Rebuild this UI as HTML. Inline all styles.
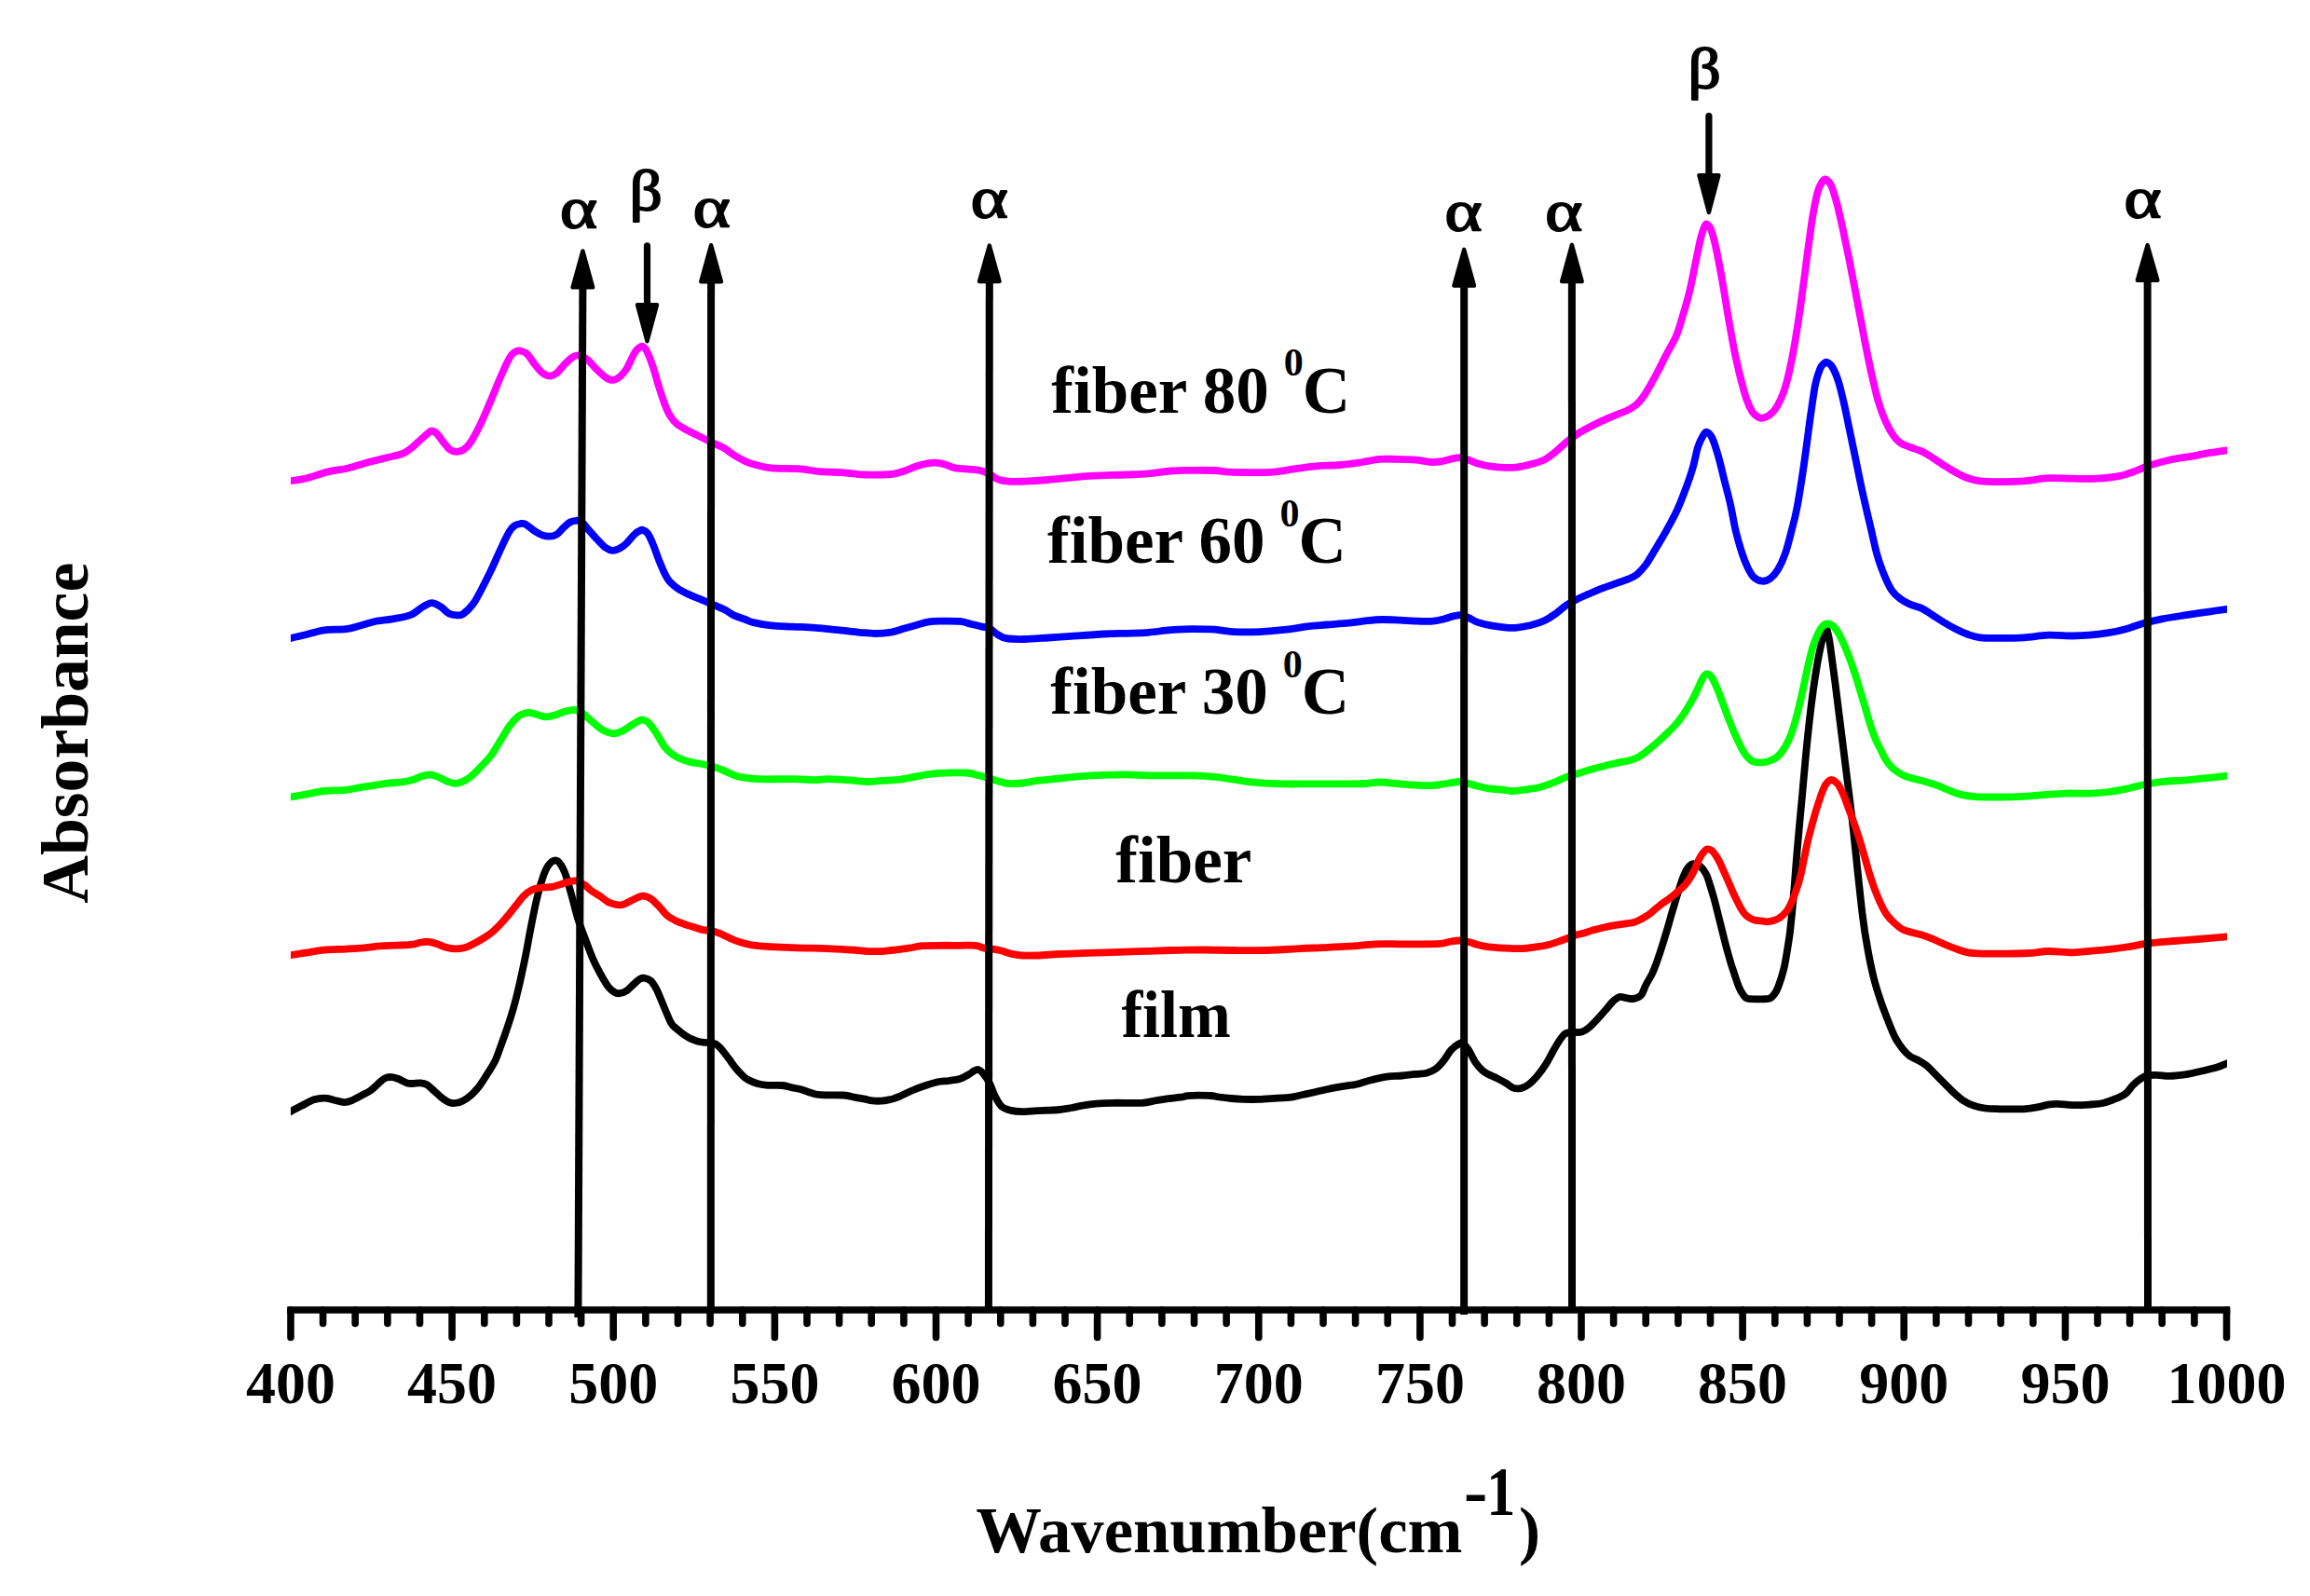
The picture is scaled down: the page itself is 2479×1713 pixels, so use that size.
<!DOCTYPE html>
<html><head><meta charset="utf-8"><title>FTIR spectra</title>
<style>html,body{margin:0;padding:0;background:#fff}svg{display:block}</style></head>
<body>
<svg width="2479" height="1713" viewBox="0 0 2479 1713">
<rect width="2479" height="1713" fill="#fff"/>
<defs><clipPath id="plotclip"><rect x="311.9" y="0" width="2078" height="1400"/></clipPath></defs>
<g clip-path="url(#plotclip)">
<path d="M299.9 1199.0C301.9 1197.9 307.9 1194.9 311.9 1192.9C315.9 1190.8 319.7 1188.9 323.8 1186.8C328.0 1184.7 332.6 1181.7 336.8 1180.3C340.9 1178.9 345.1 1178.5 348.7 1178.6C352.3 1178.6 355.0 1180.0 358.4 1180.7C361.9 1181.5 366.0 1183.1 369.3 1183.1C372.5 1183.2 374.7 1182.3 377.9 1181.0C381.2 1179.7 385.5 1177.1 388.7 1175.3C392.0 1173.6 394.5 1172.6 397.4 1170.6C400.3 1168.5 403.5 1165.2 406.1 1163.0C408.6 1160.8 410.4 1158.8 412.6 1157.6C414.7 1156.4 416.5 1155.8 419.0 1155.8C421.6 1155.9 424.8 1156.9 427.7 1158.0C430.6 1159.1 433.8 1161.5 436.4 1162.3C438.9 1163.2 440.5 1163.0 442.9 1163.0C445.2 1163.0 447.9 1162.2 450.4 1162.3C453.0 1162.5 455.3 1162.5 458.0 1164.1C460.7 1165.6 463.8 1169.1 466.7 1171.6C469.6 1174.2 472.8 1177.3 475.3 1179.2C477.8 1181.1 479.7 1182.3 481.8 1183.1C484.0 1183.9 485.8 1184.3 488.3 1184.0C490.8 1183.7 494.1 1182.8 497.0 1181.4C499.9 1179.9 502.7 1177.9 505.6 1175.3C508.5 1172.7 511.4 1169.6 514.3 1165.8C517.2 1162.0 520.1 1157.4 522.9 1152.8C525.8 1148.2 529.1 1143.4 531.6 1138.1C534.1 1132.8 535.9 1126.7 538.1 1120.8C540.3 1114.8 542.4 1108.9 544.6 1102.4C546.8 1095.9 548.9 1089.6 551.1 1081.8C553.2 1074.1 555.4 1065.2 557.6 1055.8C559.7 1046.5 561.9 1036.4 564.1 1025.5C566.2 1014.7 568.4 1001.7 570.6 990.9C572.7 980.1 574.9 969.3 577.1 960.6C579.2 951.9 581.6 944.4 583.5 939.0C585.5 933.5 586.9 930.7 589.0 928.1C591.1 925.5 593.9 923.4 596.1 923.4C598.3 923.4 600.1 925.4 601.9 928.1C603.8 930.9 605.4 934.3 607.4 940.0C609.3 945.8 611.7 955.0 613.9 962.8C616.0 970.5 617.8 978.6 620.3 986.6C622.9 994.5 626.3 1003.2 629.0 1010.4C631.7 1017.6 634.1 1024.1 636.6 1029.9C639.1 1035.6 641.5 1040.2 644.2 1045.0C646.9 1049.9 650.3 1055.8 652.8 1059.1C655.3 1062.4 657.3 1063.7 659.3 1064.9C661.3 1066.1 662.6 1066.5 664.7 1066.2C666.9 1066.0 669.6 1065.2 672.3 1063.4C675.0 1061.6 678.4 1057.6 681.0 1055.4C683.5 1053.2 685.6 1051.4 687.4 1050.4C689.2 1049.5 690.0 1049.4 691.8 1049.8C693.6 1050.1 696.1 1050.5 698.3 1052.6C700.4 1054.7 702.6 1058.2 704.8 1062.3C706.9 1066.5 708.7 1071.6 711.3 1077.5C713.8 1083.4 717.7 1093.4 720.0 1097.7C722.3 1102.0 723.3 1101.6 725.2 1103.4C727.1 1105.2 729.4 1107.0 731.4 1108.6C733.5 1110.2 735.6 1111.6 737.7 1112.8C739.8 1114.0 741.7 1115.0 743.9 1115.9C746.2 1116.8 748.8 1117.8 751.2 1118.3C753.6 1118.8 755.9 1118.7 758.5 1119.0C761.1 1119.3 764.6 1119.3 766.8 1120.1C769.1 1120.8 770.3 1122.0 772.0 1123.7C773.7 1125.3 775.5 1127.8 777.2 1129.9C779.0 1132.1 780.7 1134.4 782.4 1136.7C784.2 1139.0 785.9 1141.7 787.6 1144.0C789.4 1146.2 790.9 1148.1 792.8 1150.2C794.7 1152.3 797.0 1154.8 799.1 1156.5C801.1 1158.1 802.9 1159.0 805.3 1160.1C807.7 1161.2 810.5 1162.4 813.6 1163.2C816.7 1164.0 819.7 1164.5 824.0 1164.8C828.4 1165.1 835.3 1164.6 839.6 1165.0C844.0 1165.4 846.6 1166.6 850.0 1167.4C853.5 1168.1 857.0 1168.5 860.4 1169.5C863.9 1170.4 867.4 1172.2 870.8 1173.1C874.3 1174.1 875.5 1174.8 881.2 1175.2C887.0 1175.6 899.1 1175.1 905.2 1175.5C911.2 1175.9 913.8 1177.1 917.7 1177.8C921.5 1178.5 924.9 1179.1 928.1 1179.7C931.2 1180.3 933.4 1181.1 936.4 1181.4C939.3 1181.8 942.8 1181.8 945.7 1181.6C948.7 1181.5 951.7 1180.9 954.1 1180.4C956.4 1179.9 958.1 1179.5 960.0 1178.8C961.9 1178.2 962.4 1178.1 965.7 1176.7C969.0 1175.2 975.2 1172.0 980.0 1170.0C984.8 1168.0 989.9 1166.2 994.3 1164.8C998.7 1163.3 1002.2 1162.0 1006.2 1161.2C1010.2 1160.4 1014.1 1160.5 1018.1 1160.0C1022.1 1159.5 1026.4 1159.2 1030.0 1158.1C1033.6 1157.0 1036.9 1154.8 1039.5 1153.3C1042.1 1151.9 1043.7 1150.2 1045.5 1149.3C1047.3 1148.4 1048.7 1147.6 1050.2 1148.1C1051.8 1148.6 1053.0 1149.7 1055.0 1152.1C1057.0 1154.6 1060.0 1158.7 1062.1 1162.9C1064.3 1167.0 1065.9 1173.0 1068.1 1177.1C1070.3 1181.3 1072.5 1185.4 1075.2 1187.9C1078.0 1190.3 1081.2 1191.0 1084.8 1191.9C1088.3 1192.8 1091.9 1193.1 1096.7 1193.1C1101.4 1193.1 1106.6 1192.5 1113.3 1192.1C1120.1 1191.8 1131.0 1191.5 1137.1 1191.0C1143.3 1190.4 1145.7 1189.7 1150.0 1189.0C1154.3 1188.2 1158.7 1187.1 1163.0 1186.4C1167.3 1185.6 1170.8 1185.1 1176.0 1184.7C1181.2 1184.2 1185.9 1183.9 1194.2 1183.8C1202.4 1183.6 1217.5 1184.2 1225.3 1183.8C1233.1 1183.3 1236.1 1181.9 1240.9 1181.2C1245.7 1180.4 1249.6 1179.8 1253.9 1179.2C1258.2 1178.6 1263.4 1178.2 1266.9 1177.7C1270.3 1177.2 1271.4 1176.6 1274.7 1176.2C1277.9 1175.9 1282.3 1175.8 1286.4 1175.7C1290.5 1175.7 1295.7 1175.7 1299.4 1176.0C1303.0 1176.3 1304.8 1177.0 1308.4 1177.5C1312.1 1178.0 1317.1 1178.6 1321.4 1179.0C1325.8 1179.4 1329.4 1179.7 1334.4 1179.9C1339.4 1180.0 1345.2 1180.1 1351.3 1179.9C1357.4 1179.7 1365.4 1178.9 1370.8 1178.6C1376.2 1178.2 1379.4 1178.5 1383.8 1177.9C1388.1 1177.4 1392.4 1176.2 1396.8 1175.3C1401.1 1174.4 1405.4 1173.4 1409.7 1172.5C1414.1 1171.5 1418.4 1170.4 1422.7 1169.5C1427.1 1168.5 1431.2 1167.7 1435.7 1166.9C1440.3 1166.1 1446.8 1165.1 1450.0 1164.7C1453.2 1164.2 1451.2 1164.9 1454.8 1164.0C1458.3 1163.1 1465.9 1160.7 1471.4 1159.3C1477.0 1157.9 1482.5 1156.5 1488.1 1155.7C1493.7 1154.9 1499.6 1155.0 1504.8 1154.5C1509.9 1154.0 1514.7 1153.3 1519.0 1152.9C1523.4 1152.4 1527.4 1152.6 1531.0 1151.7C1534.5 1150.8 1537.5 1149.5 1540.5 1147.4C1543.5 1145.3 1546.0 1142.4 1548.8 1139.0C1551.6 1135.7 1554.4 1130.2 1557.1 1127.1C1559.9 1124.0 1563.3 1121.7 1565.5 1120.5C1567.7 1119.3 1568.5 1118.9 1570.2 1120.0C1572.0 1121.1 1574.0 1123.8 1576.2 1127.1C1578.4 1130.5 1581.0 1136.7 1583.3 1140.2C1585.7 1143.8 1588.1 1146.4 1590.5 1148.6C1592.9 1150.8 1594.8 1151.8 1597.6 1153.3C1600.4 1154.8 1604.0 1156.0 1607.1 1157.6C1610.3 1159.2 1613.9 1161.2 1616.7 1162.9C1619.4 1164.5 1621.2 1166.7 1623.8 1167.6C1626.4 1168.5 1629.4 1168.7 1632.1 1168.1C1634.9 1167.5 1637.5 1166.3 1640.5 1164.0C1643.5 1161.8 1646.8 1158.3 1650.0 1154.5C1653.2 1150.8 1656.7 1145.8 1659.5 1141.4C1662.3 1137.1 1664.3 1132.5 1666.7 1128.3C1669.0 1124.2 1671.6 1119.6 1673.8 1116.4C1676.0 1113.3 1677.4 1110.7 1679.8 1109.3C1682.1 1107.9 1685.1 1108.4 1688.1 1108.1C1691.1 1107.8 1694.8 1108.4 1697.6 1107.6C1700.4 1106.8 1702.0 1105.6 1704.8 1103.3C1707.5 1101.0 1711.1 1097.2 1714.3 1093.8C1717.5 1090.4 1721.0 1086.3 1723.8 1083.1C1726.6 1079.9 1728.6 1076.9 1731.0 1074.8C1733.3 1072.6 1735.7 1070.6 1738.1 1070.0C1740.5 1069.4 1742.7 1070.9 1745.2 1071.2C1747.8 1071.5 1750.9 1072.4 1753.6 1071.9C1756.2 1071.4 1759.1 1070.5 1761.3 1068.0C1763.4 1065.5 1764.5 1060.6 1766.5 1056.8C1768.4 1053.0 1771.0 1049.2 1773.0 1045.1C1774.9 1040.9 1776.5 1036.8 1778.2 1032.0C1779.9 1027.2 1781.7 1021.8 1783.4 1016.4C1785.1 1011.0 1786.9 1005.3 1788.6 999.4C1790.4 993.6 1792.3 986.4 1793.8 981.2C1795.4 976.0 1796.4 972.5 1797.7 968.2C1799.0 963.8 1800.3 959.3 1801.7 955.1C1803.0 951.0 1804.3 946.9 1805.6 943.4C1806.9 939.9 1808.2 936.7 1809.5 934.3C1810.8 931.9 1812.1 930.3 1813.4 929.1C1814.7 927.9 1815.8 927.2 1817.3 927.1C1818.8 927.0 1820.9 927.5 1822.5 928.4C1824.1 929.3 1825.5 930.5 1827.1 932.3C1828.6 934.2 1830.2 936.3 1831.6 939.5C1833.0 942.6 1834.2 947.1 1835.5 951.2C1836.8 955.4 1838.1 959.5 1839.4 964.3C1840.7 969.0 1842.1 974.7 1843.4 979.9C1844.7 985.1 1846.0 990.3 1847.3 995.5C1848.6 1000.7 1849.9 1006.2 1851.2 1011.2C1852.5 1016.2 1853.8 1020.9 1855.1 1025.5C1856.4 1030.1 1857.1 1032.9 1859.0 1038.5C1860.9 1044.2 1864.2 1054.5 1866.2 1059.5C1868.2 1064.4 1869.5 1066.1 1871.0 1068.1C1872.5 1070.2 1872.7 1071.1 1875.3 1071.8C1877.9 1072.5 1882.7 1072.3 1886.6 1072.3C1890.5 1072.3 1895.8 1072.6 1898.7 1071.8C1901.6 1070.9 1902.3 1069.3 1903.9 1067.3C1905.5 1065.2 1906.5 1064.0 1908.2 1059.5C1910.0 1054.9 1912.7 1046.6 1914.3 1040.0C1915.9 1033.4 1916.9 1026.7 1918.0 1020.0C1919.1 1013.3 1920.2 1006.7 1921.0 1000.0C1921.8 993.3 1922.4 986.7 1923.1 980.0C1923.8 973.3 1924.3 966.7 1924.9 960.0C1925.5 953.3 1926.0 946.7 1926.5 940.0C1927.0 933.3 1927.5 926.7 1928.1 920.0C1928.6 913.3 1929.2 906.7 1929.8 900.0C1930.4 893.3 1931.0 886.7 1931.6 880.0C1932.2 873.3 1932.9 866.7 1933.5 860.0C1934.1 853.3 1934.7 846.7 1935.3 840.0C1935.9 833.3 1936.5 826.7 1937.1 820.0C1937.7 813.3 1938.3 806.7 1939.0 800.0C1939.7 793.3 1940.4 786.7 1941.1 780.0C1941.8 773.3 1942.6 766.7 1943.4 760.0C1944.2 753.3 1945.1 746.7 1946.0 740.0C1946.9 733.3 1947.9 726.7 1949.0 720.0C1950.1 713.3 1951.4 705.8 1952.6 700.0C1953.8 694.2 1954.8 689.2 1956.0 685.0C1957.2 680.8 1958.6 674.7 1959.7 674.7C1960.8 674.7 1961.9 680.8 1962.8 685.0C1963.7 689.2 1964.2 694.2 1965.0 700.0C1965.8 705.8 1966.8 713.3 1967.7 720.0C1968.6 726.7 1969.5 733.3 1970.3 740.0C1971.1 746.7 1972.0 753.3 1972.8 760.0C1973.6 766.7 1974.5 773.3 1975.3 780.0C1976.1 786.7 1977.0 793.3 1977.8 800.0C1978.6 806.7 1979.5 813.3 1980.3 820.0C1981.1 826.7 1982.0 833.3 1982.8 840.0C1983.6 846.7 1984.5 853.3 1985.3 860.0C1986.1 866.7 1986.9 873.3 1987.7 880.0C1988.5 886.7 1989.2 893.3 1989.9 900.0C1990.6 906.7 1991.3 913.3 1992.0 920.0C1992.7 926.7 1992.9 929.3 1994.1 940.0C1995.3 950.7 1997.3 971.1 1999.0 984.0C2000.6 997.0 2002.2 1007.0 2004.2 1017.8C2006.1 1028.7 2008.3 1039.5 2010.7 1049.1C2013.0 1058.6 2015.9 1067.3 2018.5 1075.1C2021.1 1082.9 2023.7 1089.4 2026.3 1095.9C2028.9 1102.4 2031.5 1109.1 2034.1 1114.1C2036.7 1119.1 2039.3 1122.5 2041.9 1125.8C2044.5 1129.0 2046.6 1131.4 2049.7 1133.6C2052.7 1135.7 2057.0 1137.0 2060.1 1138.8C2063.1 1140.5 2065.3 1141.8 2067.9 1144.0C2070.5 1146.1 2072.6 1148.7 2075.7 1151.8C2078.7 1154.8 2082.6 1158.7 2086.1 1162.2C2089.6 1165.7 2093.0 1169.4 2096.5 1172.6C2100.0 1175.8 2103.4 1178.9 2106.9 1181.2C2110.4 1183.5 2113.4 1185.0 2117.3 1186.4C2121.2 1187.8 2125.5 1188.8 2130.3 1189.5C2135.1 1190.1 2139.0 1190.1 2145.9 1190.3C2152.8 1190.4 2165.0 1190.6 2171.9 1190.3C2178.8 1189.9 2183.2 1189.0 2187.5 1188.2C2191.9 1187.4 2194.5 1186.2 2197.9 1185.6C2201.4 1185.0 2204.0 1184.7 2208.3 1184.8C2212.7 1184.9 2218.3 1186.0 2223.9 1186.1C2229.6 1186.2 2236.5 1186.0 2242.1 1185.6C2247.8 1185.2 2253.0 1184.9 2257.7 1183.8C2262.5 1182.7 2266.8 1180.7 2270.7 1179.1C2274.6 1177.4 2278.1 1176.3 2281.1 1173.9C2284.2 1171.5 2286.3 1167.4 2288.9 1164.8C2291.5 1162.2 2294.1 1160.0 2296.7 1158.3C2299.3 1156.5 2301.5 1155.1 2304.6 1154.4C2307.6 1153.6 2311.1 1153.8 2315.0 1153.9C2318.9 1153.9 2322.8 1155.0 2328.0 1154.9C2333.2 1154.8 2340.1 1154.0 2346.2 1153.1C2352.2 1152.1 2358.7 1150.5 2364.4 1149.2C2370.0 1147.9 2375.7 1146.6 2380.0 1145.3C2384.2 1144.0 2386.2 1142.8 2389.9 1141.4C2393.5 1139.9 2399.9 1137.4 2401.9 1136.6" fill="none" stroke="#000" stroke-width="7.8" stroke-linejoin="round" stroke-linecap="butt"/>
<path d="M299.9 1026.9C301.9 1026.6 307.2 1025.8 311.9 1025.1C316.6 1024.4 322.2 1023.6 328.1 1022.7C334.1 1021.8 340.4 1020.4 347.6 1019.7C354.8 1019.0 364.2 1019.0 371.4 1018.6C378.6 1018.2 384.8 1017.9 390.9 1017.3C397.0 1016.8 402.5 1015.8 408.2 1015.4C414.0 1014.9 419.8 1015.0 425.5 1014.7C431.3 1014.4 438.5 1014.2 442.9 1013.6C447.2 1013.1 448.6 1011.9 451.5 1011.5C454.4 1011.0 457.3 1010.6 460.2 1010.8C463.1 1011.1 465.9 1012.0 468.8 1013.0C471.7 1013.9 474.2 1015.5 477.5 1016.5C480.7 1017.4 484.7 1018.3 488.3 1018.4C491.9 1018.5 495.5 1017.9 499.1 1016.9C502.7 1015.8 506.7 1013.7 510.0 1012.1C513.2 1010.5 515.7 1008.9 518.6 1007.1C521.5 1005.3 524.4 1003.6 527.3 1001.3C530.2 999.0 533.0 996.1 535.9 993.1C538.8 990.1 541.7 986.8 544.6 983.3C547.5 979.9 550.4 976.1 553.2 972.5C556.1 968.9 559.0 964.6 561.9 961.7C564.8 958.8 567.3 956.7 570.6 955.2C573.8 953.7 577.8 953.1 581.4 952.6C585.0 952.1 588.6 952.6 592.2 951.9C595.8 951.3 599.8 949.7 603.0 948.7C606.3 947.7 609.2 946.6 611.7 946.1C614.2 945.6 615.7 944.9 618.2 945.5C620.7 946.0 624.0 947.5 626.8 949.4C629.7 951.2 632.6 954.6 635.5 956.7C638.4 958.8 641.3 960.2 644.2 962.1C647.0 964.0 649.9 966.7 652.8 968.2C655.7 969.7 658.9 970.5 661.5 971.0C664.0 971.5 665.4 971.6 668.0 971.0C670.5 970.3 673.7 968.5 676.6 967.1C679.5 965.7 682.9 963.7 685.3 962.8C687.6 961.9 688.5 961.4 690.7 961.7C692.9 962.0 695.6 962.7 698.3 964.5C701.0 966.3 704.0 969.6 706.9 972.5C709.8 975.5 712.7 979.7 715.6 982.3C718.5 984.8 721.4 986.1 724.2 987.7C727.1 989.2 729.7 990.2 732.9 991.3C736.1 992.5 740.1 993.7 743.7 994.8C747.3 995.9 751.3 997.4 754.5 998.1C757.8 998.7 760.3 998.3 763.2 998.9C766.1 999.5 768.6 1000.4 771.9 1001.7C775.1 1003.0 778.9 1005.1 782.7 1006.7C786.4 1008.3 789.2 1009.8 794.3 1011.2C799.4 1012.6 803.8 1014.2 813.3 1015.2C822.9 1016.2 839.1 1016.7 851.4 1017.1C863.7 1017.6 876.8 1017.7 887.1 1018.1C897.5 1018.5 905.0 1019.0 913.3 1019.5C921.7 1020.0 930.0 1021.1 937.1 1021.2C944.3 1021.3 949.8 1020.6 956.2 1020.0C962.5 1019.4 969.7 1018.4 975.2 1017.6C980.8 1016.8 984.0 1015.7 989.5 1015.2C995.1 1014.8 1001.8 1014.8 1008.6 1014.8C1015.3 1014.7 1023.7 1014.8 1030.0 1014.8C1036.3 1014.8 1042.3 1014.3 1046.7 1014.8C1051.0 1015.2 1051.8 1016.7 1056.2 1017.6C1060.6 1018.5 1068.1 1019.0 1072.9 1020.0C1077.6 1021.0 1080.8 1022.7 1084.8 1023.6C1088.7 1024.5 1091.9 1025.2 1096.7 1025.5C1101.4 1025.8 1106.6 1025.7 1113.3 1025.5C1120.1 1025.2 1129.2 1024.4 1137.1 1024.0C1145.1 1023.7 1153.0 1023.4 1161.0 1023.1C1168.9 1022.8 1174.8 1022.7 1184.8 1022.4C1194.7 1022.1 1208.6 1021.6 1220.5 1021.2C1232.4 1020.8 1244.3 1020.3 1256.2 1020.0C1268.1 1019.7 1280.6 1019.5 1291.9 1019.5C1303.2 1019.5 1312.5 1019.9 1323.8 1020.0C1335.1 1020.1 1347.6 1020.3 1359.5 1020.0C1371.4 1019.7 1385.3 1018.6 1395.2 1018.1C1405.2 1017.6 1410.3 1017.5 1419.0 1017.1C1427.8 1016.7 1438.1 1016.3 1447.6 1015.7C1457.1 1015.1 1467.1 1013.7 1476.2 1013.3C1485.3 1012.9 1494.0 1013.3 1502.4 1013.3C1510.7 1013.3 1519.0 1013.4 1526.2 1013.3C1533.3 1013.3 1540.1 1013.3 1545.2 1012.9C1550.4 1012.4 1553.6 1011.0 1557.1 1010.5C1560.7 1009.9 1563.5 1009.4 1566.7 1009.5C1569.8 1009.6 1573.0 1010.2 1576.2 1011.0C1579.4 1011.7 1582.1 1013.1 1585.7 1014.0C1589.3 1015.0 1592.9 1015.8 1597.6 1016.4C1602.4 1017.0 1608.3 1017.3 1614.3 1017.6C1620.2 1017.9 1627.8 1018.3 1633.3 1018.1C1638.9 1017.9 1642.9 1017.1 1647.6 1016.4C1652.4 1015.8 1657.1 1015.2 1661.9 1014.0C1666.7 1012.9 1671.4 1011.0 1676.2 1009.3C1681.0 1007.6 1686.5 1005.1 1690.5 1003.8C1694.4 1002.5 1696.7 1002.3 1700.0 1001.4C1703.3 1000.5 1707.0 999.1 1710.4 998.1C1713.9 997.2 1717.2 996.4 1720.9 995.5C1724.5 994.7 1728.9 993.8 1732.6 993.2C1736.3 992.5 1739.5 992.1 1743.0 991.6C1746.5 991.1 1750.4 990.9 1753.4 990.1C1756.5 989.2 1758.6 987.8 1761.3 986.4C1763.9 985.0 1766.5 983.7 1769.1 981.9C1771.7 980.0 1774.3 977.4 1776.9 975.3C1779.5 973.2 1782.1 971.2 1784.7 969.2C1787.3 967.3 1789.9 965.6 1792.5 963.6C1795.1 961.6 1797.7 959.4 1800.3 957.1C1803.0 954.8 1805.8 952.6 1808.2 949.9C1810.6 947.2 1812.7 944.1 1814.7 940.8C1816.6 937.5 1818.4 933.6 1819.9 930.4C1821.4 927.1 1822.5 923.7 1823.8 921.3C1825.1 918.8 1826.4 917.0 1827.7 915.4C1829.0 913.8 1830.1 911.9 1831.6 911.5C1833.1 911.0 1835.3 911.8 1836.8 912.8C1838.4 913.8 1839.4 915.5 1840.7 917.3C1842.1 919.2 1843.4 921.4 1844.7 923.9C1846.0 926.4 1847.3 929.5 1848.6 932.3C1849.9 935.2 1851.2 937.9 1852.5 940.8C1853.8 943.7 1855.1 946.9 1856.4 949.9C1857.7 953.0 1859.0 956.2 1860.3 959.0C1861.6 961.9 1862.9 964.3 1864.2 966.9C1865.5 969.5 1866.8 972.4 1868.1 974.7C1869.4 977.0 1870.5 978.8 1872.0 980.5C1873.5 982.3 1875.5 984.0 1877.2 985.1C1879.0 986.3 1880.5 986.9 1882.5 987.5C1884.4 988.0 1886.6 988.1 1889.0 988.4C1891.4 988.7 1894.4 989.3 1896.8 989.3C1899.2 989.2 1901.1 988.7 1903.3 988.0C1905.5 987.3 1907.6 986.6 1909.8 985.1C1912.0 983.7 1914.4 981.6 1916.3 979.2C1918.3 976.9 1919.8 974.4 1921.5 970.8C1923.3 967.2 1925.0 962.7 1926.8 957.7C1928.5 952.7 1929.9 949.5 1932.0 940.8C1934.1 932.1 1937.5 914.3 1939.4 905.5C1941.4 896.7 1942.3 893.7 1943.8 888.2C1945.2 882.7 1946.7 877.5 1948.1 872.5C1949.6 867.6 1950.9 863.3 1952.5 858.7C1954.0 854.0 1956.2 848.0 1957.7 844.8C1959.2 841.5 1960.2 840.5 1961.5 839.2C1962.8 837.9 1964.1 837.0 1965.5 837.0C1966.8 836.9 1968.2 837.9 1969.5 838.9C1970.8 839.9 1971.8 840.6 1973.3 843.0C1974.8 845.5 1976.7 849.4 1978.5 853.4C1980.2 857.5 1982.0 862.7 1983.7 867.3C1985.4 872.0 1987.0 875.9 1988.9 881.2C1990.8 886.6 1992.9 892.8 1995.1 899.5C1997.2 906.2 1999.4 914.2 2001.6 921.6C2003.7 929.0 2005.7 936.6 2008.1 943.7C2010.4 950.9 2013.3 958.5 2015.9 964.5C2018.5 970.6 2020.8 975.8 2023.7 980.1C2026.5 984.5 2029.7 987.6 2032.8 990.5C2035.8 993.4 2038.6 995.8 2041.9 997.6C2045.1 999.3 2048.8 999.9 2052.3 1000.9C2055.7 1001.9 2059.2 1002.5 2062.7 1003.5C2066.1 1004.6 2069.2 1005.8 2073.1 1007.4C2077.0 1009.0 2081.8 1011.3 2086.1 1013.2C2090.4 1015.0 2094.8 1016.8 2099.1 1018.4C2103.4 1019.9 2107.3 1021.4 2112.1 1022.3C2116.9 1023.1 2121.2 1023.3 2127.7 1023.6C2134.2 1023.8 2142.9 1023.6 2151.1 1023.6C2159.3 1023.5 2169.3 1023.5 2177.1 1023.0C2184.9 1022.6 2190.1 1021.1 2197.9 1021.0C2205.7 1020.8 2215.7 1022.3 2223.9 1022.3C2232.2 1022.2 2240.0 1021.1 2247.3 1020.4C2254.7 1019.8 2261.6 1019.1 2268.1 1018.4C2274.6 1017.6 2280.3 1016.7 2286.3 1015.8C2292.4 1014.8 2296.7 1013.6 2304.6 1012.6C2312.4 1011.7 2324.1 1010.8 2333.2 1010.0C2342.3 1009.3 2349.7 1008.7 2359.2 1008.0C2368.6 1007.2 2382.7 1006.0 2389.9 1005.4C2397.0 1004.8 2399.9 1004.5 2401.9 1004.3" fill="none" stroke="#f00" stroke-width="7.8" stroke-linejoin="round" stroke-linecap="butt"/>
<path d="M299.9 857.6C301.9 857.2 307.2 856.3 311.9 855.5C316.6 854.7 322.2 853.8 328.1 852.7C334.1 851.6 340.4 849.8 347.6 849.0C354.8 848.2 364.9 848.6 371.4 847.9C377.9 847.3 381.5 845.9 386.6 845.1C391.6 844.3 397.0 843.7 401.7 842.9C406.4 842.2 410.0 841.3 414.7 840.8C419.4 840.2 425.2 840.3 429.9 839.7C434.6 839.1 438.9 838.3 442.9 837.1C446.8 835.9 450.4 833.7 453.7 832.8C456.9 831.9 459.5 831.4 462.3 831.7C465.2 831.9 468.1 833.1 471.0 834.3C473.9 835.4 476.8 837.5 479.7 838.6C482.5 839.7 485.4 840.8 488.3 840.8C491.2 840.8 494.1 839.9 497.0 838.6C499.9 837.4 502.4 835.9 505.6 833.2C508.9 830.5 512.8 826.2 516.5 822.4C520.1 818.6 523.7 815.3 527.3 810.5C530.9 805.6 534.8 798.4 538.1 793.2C541.3 787.9 543.9 783.1 546.8 779.1C549.6 775.1 552.9 771.5 555.4 769.4C557.9 767.2 559.7 766.8 561.9 766.1C564.1 765.4 565.9 764.8 568.4 765.0C570.9 765.2 574.2 766.5 577.1 767.2C579.9 767.9 582.5 769.4 585.7 769.4C589.0 769.4 592.9 768.2 596.5 767.2C600.1 766.2 604.1 764.2 607.4 763.3C610.6 762.4 613.2 761.6 616.0 761.8C618.8 762.0 621.1 762.8 624.0 764.6C626.9 766.4 630.0 769.7 633.3 772.6C636.7 775.5 640.9 779.6 644.2 781.9C647.4 784.2 650.3 785.3 652.8 786.2C655.3 787.1 656.8 787.6 659.3 787.3C661.8 787.0 664.7 786.1 668.0 784.5C671.2 782.9 675.7 779.5 678.8 777.6C681.9 775.7 684.6 774.1 686.4 773.2C688.2 772.4 688.0 772.2 689.6 772.6C691.2 773.0 693.6 773.3 696.1 775.8C698.6 778.4 701.9 783.4 704.8 787.7C707.6 792.1 710.9 798.4 713.4 801.8C715.9 805.2 717.4 806.3 719.9 808.3C722.4 810.3 725.0 812.1 728.6 813.7C732.2 815.3 737.2 817.0 741.6 818.1C745.9 819.1 750.2 819.3 754.5 820.2C758.9 821.1 763.6 822.2 767.5 823.5C771.5 824.7 775.1 826.4 778.4 827.8C781.6 829.2 784.4 830.7 787.0 831.7C789.7 832.7 789.9 833.1 794.3 833.8C798.7 834.6 803.8 835.8 813.3 836.2C822.9 836.6 841.1 836.0 851.4 836.2C861.7 836.3 869.3 837.1 875.2 837.1C881.2 837.1 881.6 836.2 887.1 836.2C892.7 836.2 901.4 836.7 908.6 837.1C915.7 837.6 923.7 838.9 930.0 839.0C936.3 839.2 940.7 838.3 946.7 837.9C952.6 837.5 959.4 837.5 965.7 836.7C972.1 835.9 978.4 834.2 984.8 833.1C991.1 832.0 998.3 830.8 1003.8 830.2C1009.4 829.6 1012.5 829.6 1018.1 829.5C1023.7 829.4 1032.0 829.1 1037.1 829.5C1042.3 829.9 1044.9 830.9 1049.0 831.9C1053.2 832.9 1058.2 834.3 1062.1 835.5C1066.1 836.7 1069.5 838.1 1072.9 839.0C1076.2 840.0 1078.4 840.7 1082.4 841.0C1086.3 841.2 1091.5 841.0 1096.7 840.5C1101.8 840.0 1106.6 838.7 1113.3 837.9C1120.1 837.0 1129.2 836.3 1137.1 835.5C1145.1 834.7 1153.0 833.7 1161.0 833.1C1168.9 832.5 1176.8 832.2 1184.8 831.9C1192.7 831.6 1200.6 831.3 1208.6 831.4C1216.5 831.5 1224.4 832.2 1232.4 832.4C1240.3 832.5 1248.3 832.4 1256.2 832.4C1264.1 832.4 1272.1 832.1 1280.0 832.4C1287.9 832.6 1296.5 833.1 1303.8 833.8C1311.1 834.5 1316.5 835.7 1323.8 836.7C1331.1 837.7 1338.9 839.0 1347.6 839.8C1356.3 840.6 1366.3 841.2 1376.2 841.4C1386.1 841.7 1396.0 841.4 1407.1 841.4C1418.3 841.4 1432.9 841.5 1442.9 841.4C1452.8 841.3 1460.3 841.3 1466.7 841.0C1473.0 840.6 1475.0 839.4 1481.0 839.5C1486.9 839.6 1496.0 840.9 1502.4 841.4C1508.7 841.9 1513.5 842.3 1519.0 842.6C1524.6 842.9 1530.2 843.4 1535.7 843.1C1541.3 842.8 1547.2 841.6 1552.4 841.0C1557.5 840.3 1562.7 839.0 1566.7 839.0C1570.6 839.0 1573.0 840.2 1576.2 841.0C1579.4 841.7 1581.7 842.9 1585.7 843.8C1589.7 844.8 1595.2 846.0 1600.0 846.7C1604.8 847.3 1610.3 847.5 1614.3 847.9C1618.3 848.3 1619.8 849.1 1623.8 849.0C1627.8 849.0 1633.3 848.1 1638.1 847.4C1642.9 846.7 1647.6 846.2 1652.4 845.0C1657.1 843.8 1662.1 842.0 1666.7 840.2C1671.3 838.5 1675.5 836.1 1680.0 834.4C1684.5 832.7 1689.3 831.5 1693.9 830.0C1698.5 828.6 1703.1 827.0 1707.8 825.7C1712.4 824.4 1717.0 823.4 1721.6 822.2C1726.3 821.1 1730.9 819.8 1735.5 818.7C1740.2 817.7 1745.7 817.2 1749.4 816.1C1753.2 815.1 1755.2 814.3 1758.1 812.7C1761.0 811.1 1763.6 809.1 1766.8 806.6C1769.9 804.1 1773.7 801.0 1777.2 797.9C1780.7 794.9 1784.1 791.7 1787.6 788.4C1791.1 785.0 1794.8 781.6 1798.0 778.0C1801.2 774.3 1804.1 770.4 1806.7 766.7C1809.3 762.9 1811.6 758.9 1813.6 755.4C1815.6 751.9 1817.1 749.3 1818.8 745.9C1820.6 742.4 1822.4 737.9 1824.0 734.6C1825.6 731.3 1827.1 727.8 1828.4 725.9C1829.7 724.0 1830.5 723.3 1831.8 723.3C1833.1 723.3 1834.7 724.2 1836.2 725.9C1837.6 727.6 1839.1 730.7 1840.5 733.7C1842.0 736.7 1843.3 740.1 1844.9 744.1C1846.4 748.2 1848.3 753.4 1850.1 758.0C1851.8 762.6 1853.5 767.4 1855.3 771.9C1857.0 776.4 1858.7 780.9 1860.5 784.9C1862.2 789.0 1863.9 792.6 1865.7 796.2C1867.4 799.8 1869.2 803.7 1870.9 806.6C1872.6 809.5 1874.4 811.7 1876.1 813.5C1877.8 815.3 1879.3 816.5 1881.3 817.4C1883.3 818.2 1885.6 818.4 1888.2 818.4C1890.8 818.4 1894.0 818.2 1896.9 817.4C1899.8 816.5 1903.0 815.3 1905.6 813.5C1908.2 811.7 1910.2 809.8 1912.5 806.6C1914.9 803.4 1917.5 798.8 1919.5 794.4C1921.5 790.1 1923.0 786.1 1924.7 780.6C1926.4 775.1 1928.2 768.4 1929.9 761.5C1931.6 754.5 1933.4 746.7 1935.1 738.9C1936.8 731.1 1938.6 722.1 1940.3 714.6C1942.0 707.1 1943.8 699.4 1945.5 693.8C1947.2 688.2 1949.0 684.4 1950.7 680.8C1952.5 677.2 1954.2 674.0 1955.9 672.1C1957.7 670.2 1959.4 669.6 1961.1 669.5C1962.9 669.4 1964.6 669.9 1966.3 671.2C1968.1 672.5 1969.8 674.7 1971.5 677.3C1973.3 679.9 1975.0 683.2 1976.7 686.9C1978.5 690.5 1980.2 694.7 1982.0 699.0C1983.7 703.3 1985.4 708.0 1987.2 712.9C1988.9 717.8 1990.6 723.0 1992.4 728.5C1994.1 734.0 1995.8 740.1 1997.6 745.9C1999.3 751.6 2001.0 757.4 2002.8 763.2C2004.5 769.0 2006.2 775.4 2008.0 780.6C2009.7 785.8 2011.5 790.4 2013.2 794.4C2014.9 798.5 2016.7 801.4 2018.4 804.9C2020.1 808.3 2021.6 812.1 2023.6 815.3C2025.6 818.5 2028.2 821.6 2030.5 823.9C2032.9 826.3 2035.2 827.7 2037.5 829.2C2039.8 830.7 2041.5 831.8 2044.4 833.0C2047.3 834.1 2051.1 835.1 2054.8 836.1C2058.6 837.1 2062.8 838.0 2067.0 839.2C2071.2 840.4 2075.9 841.9 2080.0 843.4C2084.1 844.9 2087.2 846.6 2091.3 848.2C2095.3 849.8 2099.5 851.7 2104.3 852.9C2109.1 854.0 2114.3 854.8 2119.9 855.2C2125.5 855.6 2130.7 855.5 2138.1 855.5C2145.5 855.5 2155.4 855.6 2164.1 855.2C2172.8 854.9 2181.4 854.0 2190.1 853.4C2198.8 852.8 2207.5 851.9 2216.1 851.6C2224.8 851.3 2234.3 851.8 2242.1 851.6C2249.9 851.3 2256.4 850.8 2262.9 850.0C2269.4 849.2 2275.1 848.1 2281.1 846.9C2287.2 845.6 2292.8 843.8 2299.3 842.5C2305.9 841.2 2312.4 840.0 2320.2 839.1C2328.0 838.2 2337.5 838.0 2346.2 837.3C2354.8 836.5 2364.9 835.4 2372.2 834.7C2379.5 833.9 2384.9 833.2 2389.9 832.6C2394.8 832.0 2399.9 831.4 2401.9 831.2" fill="none" stroke="#0f0" stroke-width="7.8" stroke-linejoin="round" stroke-linecap="butt"/>
<path d="M299.9 687.7C301.9 687.2 307.2 686.0 311.9 684.9C316.6 683.9 322.2 682.7 328.1 681.3C334.1 679.8 340.4 677.3 347.6 676.3C354.8 675.3 364.9 676.0 371.4 675.2C377.9 674.4 381.5 672.8 386.6 671.5C391.6 670.2 396.0 668.4 401.7 667.2C407.5 666.0 414.7 665.6 421.2 664.4C427.7 663.2 435.3 662.2 440.7 660.0C446.1 657.9 449.9 653.5 453.7 651.4C457.5 649.2 460.2 647.1 463.4 647.1C466.7 647.1 470.1 649.5 473.2 651.4C476.2 653.3 478.9 657.0 481.8 658.5C484.7 660.0 488.0 660.2 490.5 660.3C493.0 660.3 494.1 661.0 497.0 659.0C499.9 656.9 504.5 652.5 507.8 648.1C511.0 643.8 513.2 639.1 516.5 633.0C519.7 626.9 523.7 619.0 527.3 611.4C530.9 603.8 534.8 594.4 538.1 587.6C541.3 580.7 544.4 574.2 546.8 570.3C549.1 566.4 550.2 565.6 552.2 564.2C554.1 562.8 556.7 562.3 558.7 562.0C560.6 561.8 561.7 561.5 564.1 562.7C566.4 563.9 569.8 567.3 572.7 569.2C575.6 571.1 578.5 573.1 581.4 574.2C584.3 575.2 587.3 575.8 590.0 575.7C592.7 575.6 595.1 575.1 597.6 573.5C600.1 571.9 602.8 568.1 605.2 565.9C607.5 563.8 609.5 561.7 611.7 560.5C613.9 559.3 616.1 558.9 618.2 558.8C620.2 558.7 621.9 558.3 624.0 559.9C626.2 561.4 628.5 565.1 631.2 568.1C633.8 571.1 636.8 574.6 639.8 577.8C642.9 581.1 646.7 585.4 649.6 587.6C652.5 589.7 654.6 590.6 657.1 590.8C659.7 591.0 662.2 589.9 664.7 588.7C667.2 587.4 669.6 585.8 672.3 583.2C675.0 580.7 678.6 575.7 681.0 573.5C683.3 571.3 684.9 570.6 686.4 569.8C687.8 569.0 688.2 568.3 689.6 568.7C691.1 569.2 693.2 570.0 695.0 572.4C696.8 574.8 698.4 578.6 700.4 583.2C702.4 587.9 704.8 595.2 706.9 600.6C709.1 606.0 711.4 611.7 713.4 615.7C715.4 619.7 716.3 621.6 718.8 624.4C721.4 627.2 724.8 630.1 728.6 632.6C732.4 635.1 737.2 637.1 741.6 639.1C745.9 641.0 750.2 642.5 754.5 644.3C758.9 646.1 763.6 648.2 767.5 649.9C771.5 651.6 775.1 653.0 778.4 654.7C781.6 656.4 783.4 658.4 787.0 660.1C790.6 661.8 796.4 663.7 800.0 665.0C803.6 666.3 804.0 667.0 808.6 668.1C813.2 669.2 820.5 670.7 827.6 671.4C834.8 672.2 843.5 672.2 851.4 672.6C859.4 673.0 867.3 673.2 875.2 673.8C883.2 674.4 891.1 675.4 899.0 676.2C907.0 677.0 916.1 678.2 922.9 678.8C929.6 679.4 934.0 680.0 939.5 680.0C945.1 680.0 951.0 679.5 956.2 678.6C961.3 677.7 965.7 675.9 970.5 674.5C975.2 673.2 980.4 671.7 984.8 670.5C989.1 669.3 992.7 668.0 996.7 667.4C1000.6 666.7 1003.0 666.7 1008.6 666.7C1014.1 666.6 1024.4 666.4 1030.0 666.9C1035.6 667.4 1037.9 668.8 1041.9 669.8C1045.9 670.7 1050.4 671.8 1053.8 672.6C1057.2 673.4 1059.4 673.1 1062.1 674.5C1064.9 675.9 1067.5 679.2 1070.5 681.0C1073.5 682.7 1075.2 684.4 1080.0 685.2C1084.8 686.1 1091.5 686.1 1099.0 686.0C1106.6 685.8 1116.9 685.0 1125.2 684.5C1133.6 684.0 1139.1 683.5 1149.0 682.9C1159.0 682.2 1174.8 681.0 1184.8 680.5C1194.7 680.0 1200.6 680.0 1208.6 679.8C1216.5 679.5 1224.4 679.4 1232.4 678.8C1240.3 678.2 1248.3 676.8 1256.2 676.2C1264.1 675.6 1272.1 675.3 1280.0 675.2C1287.9 675.2 1296.5 675.2 1303.8 675.7C1311.1 676.2 1315.7 677.7 1323.8 678.1C1331.9 678.5 1342.9 678.5 1352.4 678.1C1361.9 677.7 1372.2 676.7 1381.0 675.7C1389.7 674.7 1397.6 673.0 1404.8 672.1C1411.9 671.3 1416.7 671.1 1423.8 670.5C1431.0 669.9 1440.5 669.3 1447.6 668.6C1454.8 667.9 1460.7 666.8 1466.7 666.2C1472.6 665.6 1477.4 665.1 1483.3 665.0C1489.3 664.9 1496.0 665.4 1502.4 665.7C1508.7 666.0 1515.5 666.5 1521.4 666.7C1527.4 666.8 1533.3 667.1 1538.1 666.7C1542.9 666.3 1546.4 665.2 1550.0 664.3C1553.6 663.4 1556.5 662.1 1559.5 661.4C1562.5 660.8 1565.1 660.0 1567.9 660.2C1570.6 660.5 1573.2 661.8 1576.2 663.1C1579.2 664.4 1581.7 666.5 1585.7 667.9C1589.7 669.2 1595.2 670.5 1600.0 671.4C1604.8 672.3 1609.9 672.9 1614.3 673.3C1618.7 673.7 1621.4 674.2 1626.2 673.8C1631.0 673.4 1637.7 672.2 1642.9 671.0C1648.0 669.7 1652.8 668.2 1657.1 666.2C1661.5 664.2 1665.1 661.8 1669.0 659.0C1673.0 656.3 1677.0 652.2 1681.0 649.5C1684.9 646.8 1688.9 644.8 1692.9 642.9C1696.8 640.9 1700.4 639.5 1704.8 637.6C1709.1 635.8 1713.9 633.7 1719.0 631.7C1724.2 629.7 1731.0 627.4 1735.7 625.7C1740.5 624.0 1744.0 623.0 1747.6 621.4C1751.2 619.8 1754.0 618.8 1757.1 616.2C1760.3 613.5 1763.5 609.8 1766.7 605.5C1769.8 601.1 1772.6 596.0 1776.2 590.0C1779.8 584.0 1784.1 576.9 1788.1 569.8C1792.1 562.6 1796.4 554.9 1800.0 547.1C1803.6 539.4 1806.7 530.9 1809.5 523.3C1812.3 515.8 1814.6 509.1 1816.7 501.9C1818.8 494.7 1820.3 485.5 1822.1 479.9C1823.9 474.3 1825.7 470.9 1827.3 468.2C1828.9 465.5 1830.0 463.3 1831.7 463.8C1833.5 464.2 1835.6 466.4 1837.7 470.8C1839.8 475.2 1842.0 482.7 1844.2 490.3C1846.4 497.9 1848.5 507.6 1850.7 516.3C1852.9 525.0 1855.3 533.6 1857.2 542.3C1859.2 551.0 1860.5 560.3 1862.4 568.6C1864.4 576.9 1866.8 585.3 1868.9 592.0C1871.1 598.7 1873.3 604.4 1875.4 608.9C1877.6 613.5 1879.3 616.9 1881.9 619.3C1884.5 621.8 1888.0 623.5 1891.0 623.7C1894.1 624.0 1897.3 622.7 1900.1 620.6C1902.9 618.6 1905.3 615.9 1907.9 611.5C1910.5 607.2 1913.4 601.3 1915.7 594.6C1918.1 587.9 1920.1 579.5 1922.2 571.2C1924.4 562.9 1926.2 557.1 1928.5 544.9C1930.8 532.7 1933.6 514.6 1936.0 498.1C1938.4 481.6 1941.0 460.4 1943.0 446.1C1945.1 431.8 1946.5 420.7 1948.2 412.3C1950.0 403.8 1951.9 399.1 1953.4 395.4C1955.0 391.7 1956.1 391.3 1957.3 390.2C1958.6 389.1 1959.2 388.2 1960.7 388.9C1962.2 389.5 1964.4 390.6 1966.4 394.1C1968.5 397.5 1970.8 402.7 1973.0 409.7C1975.1 416.6 1977.3 426.1 1979.5 435.7C1981.6 445.2 1983.8 456.5 1986.0 466.9C1988.1 477.3 1990.3 487.7 1992.5 498.1C1994.6 508.5 1996.4 517.6 1999.0 529.3C2001.6 541.1 2005.5 557.5 2008.1 568.6C2010.7 579.7 2012.2 587.7 2014.6 595.9C2016.9 604.2 2019.8 611.7 2022.4 618.0C2025.0 624.3 2027.4 629.5 2030.2 633.6C2033.0 637.7 2036.0 640.2 2039.3 642.7C2042.5 645.2 2045.8 647.0 2049.7 648.7C2053.6 650.4 2058.8 651.3 2062.7 653.1C2066.6 655.0 2069.2 657.2 2073.1 659.6C2077.0 662.1 2081.8 665.4 2086.1 668.0C2090.4 670.6 2094.8 673.1 2099.1 675.2C2103.4 677.4 2107.8 679.4 2112.1 681.0C2116.4 682.5 2119.5 683.7 2125.1 684.3C2130.7 685.0 2138.1 684.9 2145.9 684.9C2153.7 684.9 2163.2 684.9 2171.9 684.3C2180.6 683.8 2189.3 682.0 2197.9 681.7C2206.6 681.4 2216.6 682.5 2223.9 682.5C2231.3 682.5 2235.6 682.3 2242.1 681.7C2248.6 681.2 2256.4 680.2 2262.9 679.1C2269.4 678.1 2275.1 676.9 2281.1 675.2C2287.2 673.6 2292.8 671.1 2299.3 669.3C2305.9 667.4 2312.4 665.8 2320.2 664.3C2328.0 662.8 2337.5 661.5 2346.2 660.2C2354.8 658.8 2364.9 657.3 2372.2 656.3C2379.5 655.2 2384.9 654.6 2389.9 653.9C2394.8 653.3 2399.9 652.6 2401.9 652.3" fill="none" stroke="#00f" stroke-width="7.8" stroke-linejoin="round" stroke-linecap="butt"/>
<path d="M299.9 518.1C301.9 517.7 307.2 516.9 311.9 516.1C316.6 515.4 321.5 515.2 328.1 513.5C334.8 511.9 344.4 508.2 351.9 506.4C359.5 504.6 366.0 504.3 373.6 502.5C381.2 500.7 390.2 497.5 397.4 495.6C404.6 493.6 411.1 492.3 416.9 490.8C422.7 489.4 428.1 488.5 432.0 486.9C436.0 485.4 437.4 484.0 440.7 481.5C443.9 479.0 448.3 474.7 451.5 471.8C454.8 468.9 458.2 465.8 460.2 464.2C462.2 462.6 462.0 462.3 463.4 462.5C464.9 462.6 466.8 463.4 468.8 465.3C470.8 467.2 473.0 471.1 475.3 473.9C477.7 476.8 480.4 480.8 482.9 482.6C485.4 484.4 488.0 484.8 490.5 484.8C493.0 484.7 495.5 484.0 498.1 482.2C500.6 480.4 502.6 478.7 505.6 473.9C508.7 469.1 512.8 461.0 516.5 453.4C520.1 445.8 523.7 437.0 527.3 428.5C530.9 420.0 534.8 409.9 538.1 402.5C541.3 395.1 544.4 388.2 546.8 384.1C549.1 380.0 550.4 379.3 552.2 378.1C554.0 376.8 555.4 376.3 557.6 376.5C559.7 376.8 562.6 377.2 565.2 379.4C567.7 381.5 570.0 386.1 572.7 389.5C575.4 392.9 578.5 397.4 581.4 399.7C584.3 402.0 587.3 403.5 590.0 403.6C592.7 403.7 595.1 402.3 597.6 400.3C600.1 398.4 602.5 394.5 605.2 391.7C607.9 388.9 611.5 385.4 613.9 383.7C616.2 382.0 617.6 381.8 619.3 381.5C621.0 381.2 622.0 381.1 624.0 381.9C626.0 382.8 628.5 384.4 631.2 386.7C633.8 389.1 636.8 393.0 639.8 396.0C642.9 399.0 646.7 402.7 649.6 404.7C652.5 406.7 654.6 407.9 657.1 407.9C659.7 407.9 662.2 406.7 664.7 404.7C667.2 402.7 669.6 400.3 672.3 396.0C675.0 391.7 678.6 382.6 681.0 378.7C683.3 374.8 684.9 374.0 686.4 372.9C687.8 371.7 688.3 371.2 689.6 371.8C690.9 372.4 692.1 373.0 693.9 376.5C695.7 380.0 698.3 386.5 700.4 392.8C702.6 399.1 704.8 407.6 706.9 414.4C709.1 421.3 711.4 428.7 713.4 433.9C715.4 439.1 716.7 442.3 718.8 445.8C721.0 449.3 723.3 452.5 726.4 455.1C729.5 457.7 733.3 459.4 737.2 461.6C741.2 463.8 745.9 465.9 750.2 468.1C754.5 470.3 758.9 472.5 763.2 474.6C767.5 476.6 772.2 478.2 776.2 480.4C780.2 482.7 783.0 485.5 787.0 488.0C791.0 490.5 796.4 493.5 800.0 495.2C803.6 497.0 804.0 497.1 808.6 498.3C813.2 499.5 819.7 501.6 827.6 502.4C835.6 503.2 847.5 502.5 856.2 503.1C864.9 503.7 872.1 505.5 880.0 506.2C887.9 506.9 895.9 506.6 903.8 507.1C911.7 507.7 918.9 509.2 927.6 509.5C936.3 509.8 949.0 509.7 956.2 509.0C963.3 508.4 965.7 507.0 970.5 505.5C975.2 504.0 980.4 501.4 984.8 500.0C989.1 498.6 993.5 497.7 996.7 497.1C999.8 496.6 1001.0 496.5 1003.8 496.7C1006.6 496.9 1009.8 497.4 1013.3 498.3C1016.9 499.3 1020.5 501.5 1025.2 502.4C1030.0 503.3 1037.1 503.3 1041.9 503.8C1046.7 504.3 1050.4 504.6 1053.8 505.5C1057.2 506.3 1059.4 507.6 1062.1 509.0C1064.9 510.5 1067.1 513.0 1070.5 514.3C1073.8 515.6 1077.6 516.3 1082.4 516.7C1087.1 517.1 1091.9 516.9 1099.0 516.7C1106.2 516.4 1116.9 515.7 1125.2 515.0C1133.6 514.3 1141.1 513.3 1149.0 512.6C1157.0 511.9 1162.9 511.2 1172.9 510.7C1182.8 510.2 1198.7 509.9 1208.6 509.5C1218.5 509.1 1224.4 509.0 1232.4 508.3C1240.3 507.7 1248.3 506.1 1256.2 505.5C1264.1 504.9 1272.1 504.8 1280.0 504.8C1287.9 504.7 1297.3 504.7 1303.8 505.0C1310.3 505.3 1312.5 506.3 1319.0 506.7C1325.6 507.0 1334.9 507.1 1342.9 507.1C1350.8 507.1 1358.7 507.3 1366.7 506.7C1374.6 506.0 1382.5 504.2 1390.5 503.1C1398.4 502.0 1406.3 500.9 1414.3 500.2C1422.2 499.6 1430.2 499.8 1438.1 499.0C1446.0 498.3 1454.8 497.0 1461.9 496.0C1469.0 494.9 1475.0 493.4 1481.0 492.9C1486.9 492.3 1491.3 492.7 1497.6 492.9C1504.0 493.0 1512.7 493.1 1519.0 493.6C1525.4 494.1 1531.0 495.7 1535.7 496.0C1540.5 496.2 1543.8 495.8 1547.6 495.2C1551.4 494.6 1555.0 493.1 1558.3 492.4C1561.7 491.7 1564.9 491.0 1567.9 491.2C1570.8 491.4 1573.2 492.5 1576.2 493.6C1579.2 494.6 1581.7 496.4 1585.7 497.6C1589.7 498.8 1595.2 500.0 1600.0 500.7C1604.8 501.4 1609.5 501.8 1614.3 501.9C1619.0 502.0 1623.8 502.0 1628.6 501.4C1633.3 500.8 1638.1 499.6 1642.9 498.3C1647.6 497.0 1652.8 495.8 1657.1 493.6C1661.5 491.4 1665.1 488.4 1669.0 485.2C1673.0 482.1 1677.0 477.8 1681.0 474.5C1684.9 471.3 1688.9 468.3 1692.9 465.7C1696.8 463.1 1700.4 461.3 1704.8 459.0C1709.1 456.7 1713.9 454.3 1719.0 451.9C1724.2 449.5 1731.3 446.6 1735.7 444.8C1740.1 442.9 1742.3 442.6 1745.6 440.9C1749.0 439.2 1753.0 437.0 1756.0 434.4C1759.1 431.8 1761.2 429.0 1763.8 425.3C1766.4 421.6 1769.1 416.8 1771.7 412.3C1774.3 407.7 1776.9 403.0 1779.5 398.0C1782.1 393.0 1784.7 387.4 1787.3 382.4C1789.9 377.4 1792.9 372.2 1795.1 368.1C1797.2 363.9 1798.1 362.9 1800.0 357.7C1801.9 352.5 1804.3 344.2 1806.5 336.9C1808.7 329.5 1810.8 322.5 1813.0 313.4C1815.2 304.3 1817.6 291.6 1819.5 282.2C1821.5 272.9 1823.2 263.8 1824.7 257.5C1826.2 251.2 1827.4 247.3 1828.6 244.5C1829.8 241.7 1830.4 240.2 1831.7 240.6C1833.0 241.1 1834.8 242.8 1836.4 247.1C1838.1 251.5 1839.7 257.7 1841.6 266.6C1843.6 275.5 1845.9 288.3 1848.1 300.4C1850.3 312.6 1852.4 326.9 1854.6 339.5C1856.8 352.0 1859.0 365.0 1861.1 375.9C1863.3 386.7 1865.5 395.8 1867.6 404.5C1869.8 413.1 1872.0 421.6 1874.1 427.9C1876.3 434.2 1878.5 438.8 1880.6 442.2C1882.8 445.5 1885.4 446.8 1887.1 447.9C1888.9 449.0 1889.1 449.1 1891.0 448.7C1893.0 448.3 1896.2 447.5 1898.8 445.6C1901.4 443.6 1904.0 441.2 1906.6 437.0C1909.2 432.7 1912.1 427.0 1914.4 420.1C1916.8 413.1 1918.8 405.3 1920.9 395.4C1923.1 385.4 1925.3 373.5 1927.4 360.3C1929.6 347.0 1931.8 331.7 1933.9 316.0C1936.1 300.4 1938.5 280.9 1940.4 266.6C1942.4 252.3 1943.9 240.4 1945.6 230.2C1947.4 220.0 1949.2 211.4 1950.8 205.5C1952.5 199.7 1954.1 197.3 1955.5 195.1C1956.9 192.9 1957.6 191.9 1959.2 192.5C1960.8 193.2 1963.1 194.5 1965.1 199.0C1967.2 203.6 1969.5 211.6 1971.7 219.8C1973.8 228.1 1976.0 238.5 1978.2 248.4C1980.3 258.4 1982.5 268.8 1984.7 279.6C1986.8 290.5 1989.0 302.2 1991.2 313.4C1993.3 324.7 1995.5 336.0 1997.7 347.3C1999.8 358.5 2002.0 370.4 2004.2 381.1C2006.3 391.7 2008.5 401.9 2010.7 411.0C2012.8 420.1 2015.0 428.7 2017.2 435.7C2019.3 442.6 2021.3 447.4 2023.7 452.6C2026.1 457.8 2028.9 463.1 2031.5 466.9C2034.1 470.7 2036.2 473.0 2039.3 475.2C2042.3 477.4 2045.8 478.3 2049.7 479.9C2053.6 481.5 2058.8 482.8 2062.7 484.6C2066.6 486.4 2069.2 488.3 2073.1 490.8C2077.0 493.3 2081.8 496.7 2086.1 499.4C2090.4 502.1 2094.8 504.9 2099.1 507.2C2103.4 509.5 2107.8 511.7 2112.1 513.2C2116.4 514.7 2119.5 515.7 2125.1 516.3C2130.7 517.0 2138.1 517.1 2145.9 517.1C2153.7 517.1 2163.2 517.0 2171.9 516.3C2180.6 515.7 2189.3 513.6 2197.9 513.2C2206.6 512.8 2215.3 513.6 2223.9 513.7C2232.6 513.8 2241.3 514.2 2249.9 513.7C2258.6 513.2 2268.6 512.1 2275.9 510.6C2283.3 509.1 2288.9 506.5 2294.1 504.6C2299.3 502.7 2301.5 501.2 2307.2 499.4C2312.8 497.6 2320.6 495.3 2328.0 493.7C2335.3 492.1 2344.0 491.1 2351.4 489.8C2358.7 488.5 2365.8 487.0 2372.2 485.9C2378.6 484.8 2384.9 484.0 2389.9 483.3C2394.8 482.5 2399.9 481.8 2401.9 481.5" fill="none" stroke="#f0f" stroke-width="7.8" stroke-linejoin="round" stroke-linecap="butt"/>
</g>
<g stroke="#000" stroke-width="7.6" stroke-linecap="round" fill="none">
<path d="M312.0 1406.0H2389.5" stroke-linecap="square"/>
<path d="M312.0 1406.0V1435.5M346.6 1406.0V1420.5M381.2 1406.0V1420.5M415.9 1406.0V1420.5M450.5 1406.0V1420.5M485.1 1406.0V1435.5M519.8 1406.0V1420.5M554.4 1406.0V1420.5M589.0 1406.0V1420.5M623.6 1406.0V1420.5M658.2 1406.0V1435.5M692.9 1406.0V1420.5M727.5 1406.0V1420.5M762.1 1406.0V1420.5M796.8 1406.0V1420.5M831.4 1406.0V1435.5M866.0 1406.0V1420.5M900.6 1406.0V1420.5M935.2 1406.0V1420.5M969.9 1406.0V1420.5M1004.5 1406.0V1435.5M1039.1 1406.0V1420.5M1073.8 1406.0V1420.5M1108.4 1406.0V1420.5M1143.0 1406.0V1420.5M1177.6 1406.0V1435.5M1212.2 1406.0V1420.5M1246.9 1406.0V1420.5M1281.5 1406.0V1420.5M1316.1 1406.0V1420.5M1350.8 1406.0V1435.5M1385.4 1406.0V1420.5M1420.0 1406.0V1420.5M1454.6 1406.0V1420.5M1489.2 1406.0V1420.5M1523.9 1406.0V1435.5M1558.5 1406.0V1420.5M1593.1 1406.0V1420.5M1627.8 1406.0V1420.5M1662.4 1406.0V1420.5M1697.0 1406.0V1435.5M1731.6 1406.0V1420.5M1766.2 1406.0V1420.5M1800.9 1406.0V1420.5M1835.5 1406.0V1420.5M1870.1 1406.0V1435.5M1904.8 1406.0V1420.5M1939.4 1406.0V1420.5M1974.0 1406.0V1420.5M2008.6 1406.0V1420.5M2043.2 1406.0V1435.5M2077.9 1406.0V1420.5M2112.5 1406.0V1420.5M2147.1 1406.0V1420.5M2181.8 1406.0V1420.5M2216.4 1406.0V1435.5M2251.0 1406.0V1420.5M2285.6 1406.0V1420.5M2320.2 1406.0V1420.5M2354.9 1406.0V1420.5M2389.5 1406.0V1435.5"/>
</g>
<path d="M620.4 1414.0L625.4 308.6" stroke="#000" stroke-width="8.0" fill="none"/><path d="M625.4 269.4L636.2 308.4L614.6 308.4Z" fill="#000" stroke="#000" stroke-width="4.4" stroke-linejoin="round"/>
<path d="M762.8 1406.0L763.1 302.4" stroke="#000" stroke-width="8.0" fill="none"/><path d="M763.1 263.2L773.9 302.2L752.3 302.2Z" fill="#000" stroke="#000" stroke-width="4.4" stroke-linejoin="round"/>
<path d="M1060.9 1406.0L1061.8 302.2" stroke="#000" stroke-width="8.0" fill="none"/><path d="M1061.8 263.5L1072.6 302.0L1051.0 302.0Z" fill="#000" stroke="#000" stroke-width="4.4" stroke-linejoin="round"/>
<path d="M1571.1 1411.0L1571.2 306.8" stroke="#000" stroke-width="8.0" fill="none"/><path d="M1571.2 267.8L1582.0 306.6L1560.4 306.6Z" fill="#000" stroke="#000" stroke-width="4.4" stroke-linejoin="round"/>
<path d="M1687.0 1406.0L1686.9 302.3" stroke="#000" stroke-width="8.0" fill="none"/><path d="M1686.9 262.8L1697.7 302.1L1676.1 302.1Z" fill="#000" stroke="#000" stroke-width="4.4" stroke-linejoin="round"/>
<path d="M2305.0 1406.0L2304.6 301.0" stroke="#000" stroke-width="8.0" fill="none"/><path d="M2304.6 263.1L2315.4 300.8L2293.8 300.8Z" fill="#000" stroke="#000" stroke-width="4.4" stroke-linejoin="round"/>
<path d="M694.5 263.9V327.0" stroke="#000" stroke-width="7.2" fill="none" stroke-linecap="round"/><path d="M694.5 366.3L705.0 327.2L684.0 327.2Z" fill="#000" stroke="#000" stroke-width="4.4" stroke-linejoin="round"/>
<path d="M1833.9 124.5V188.0" stroke="#000" stroke-width="7.2" fill="none" stroke-linecap="round"/><path d="M1833.9 227.9L1844.4 188.2L1823.4 188.2Z" fill="#000" stroke="#000" stroke-width="4.4" stroke-linejoin="round"/>
<g font-family="'Liberation Serif','DejaVu Serif',serif" font-weight="bold" fill="#000">
<text x="312.0" y="1506.4" font-size="64" text-anchor="middle">400</text>
<text x="485.1" y="1506.4" font-size="64" text-anchor="middle">450</text>
<text x="658.2" y="1506.4" font-size="64" text-anchor="middle">500</text>
<text x="831.4" y="1506.4" font-size="64" text-anchor="middle">550</text>
<text x="1004.5" y="1506.4" font-size="64" text-anchor="middle">600</text>
<text x="1177.6" y="1506.4" font-size="64" text-anchor="middle">650</text>
<text x="1350.8" y="1506.4" font-size="64" text-anchor="middle">700</text>
<text x="1523.9" y="1506.4" font-size="64" text-anchor="middle">750</text>
<text x="1697.0" y="1506.4" font-size="64" text-anchor="middle">800</text>
<text x="1870.1" y="1506.4" font-size="64" text-anchor="middle">850</text>
<text x="2043.2" y="1506.4" font-size="64" text-anchor="middle">900</text>
<text x="2216.4" y="1506.4" font-size="64" text-anchor="middle">950</text>
<text x="2389.5" y="1506.4" font-size="64" text-anchor="middle">1000</text>
<text x="1047.2" y="1665.5" font-size="70.7">Wavenumber(cm</text>
<text x="1570.9" y="1626" font-size="76">-</text>
<text transform="translate(1610.7 1626) scale(0.85 1)" font-size="73" text-anchor="middle">1</text>
<text x="1630" y="1665.5" font-size="70.7" textLength="23" lengthAdjust="spacingAndGlyphs">)</text>
<text transform="translate(94 786.8) rotate(-90)" font-size="71.6" text-anchor="middle">Absorbance</text>
<text x="1128.3" y="442.5" font-size="71">fiber 80</text><text x="1377.7" y="403.0" font-size="42">0</text><text x="1397.8" y="442.5" font-size="71">C</text>
<text x="1124.1" y="604.2" font-size="71">fiber 60</text><text x="1373.5" y="564.7" font-size="42">0</text><text x="1393.6" y="604.2" font-size="71">C</text>
<text x="1127.3" y="766.2" font-size="71">fiber 30</text><text x="1376.7" y="726.7" font-size="42">0</text><text x="1396.8" y="766.2" font-size="71">C</text>
<text x="1197.3" y="946.6" font-size="71">fiber</text>
<text x="1203.4" y="1112.6" font-size="71" textLength="117.5" lengthAdjust="spacingAndGlyphs">film</text>
<text transform="translate(620.9 243.9) scale(1.23 1)" font-size="62" font-weight="normal" stroke="#000" stroke-width="1.8" stroke-linejoin="round" text-anchor="middle">α</text>
<text transform="translate(763.6 243.3) scale(1.23 1)" font-size="62" font-weight="normal" stroke="#000" stroke-width="1.8" stroke-linejoin="round" text-anchor="middle">α</text>
<text transform="translate(1061.6 233.4) scale(1.23 1)" font-size="62" font-weight="normal" stroke="#000" stroke-width="1.8" stroke-linejoin="round" text-anchor="middle">α</text>
<text transform="translate(1570.5 247.4) scale(1.23 1)" font-size="62" font-weight="normal" stroke="#000" stroke-width="1.8" stroke-linejoin="round" text-anchor="middle">α</text>
<text transform="translate(1678.2 247.4) scale(1.23 1)" font-size="62" font-weight="normal" stroke="#000" stroke-width="1.8" stroke-linejoin="round" text-anchor="middle">α</text>
<text transform="translate(2299.5 233.2) scale(1.23 1)" font-size="62" font-weight="normal" stroke="#000" stroke-width="1.8" stroke-linejoin="round" text-anchor="middle">α</text>
<text transform="translate(693.1 225.0) scale(1.12 1)" font-size="62" font-weight="normal" stroke="#000" stroke-width="1.8" stroke-linejoin="round" text-anchor="middle">β</text>
<text transform="translate(1829.1 93.9) scale(1.12 1)" font-size="62" font-weight="normal" stroke="#000" stroke-width="1.8" stroke-linejoin="round" text-anchor="middle">β</text>
</g>
</svg>
</body></html>
